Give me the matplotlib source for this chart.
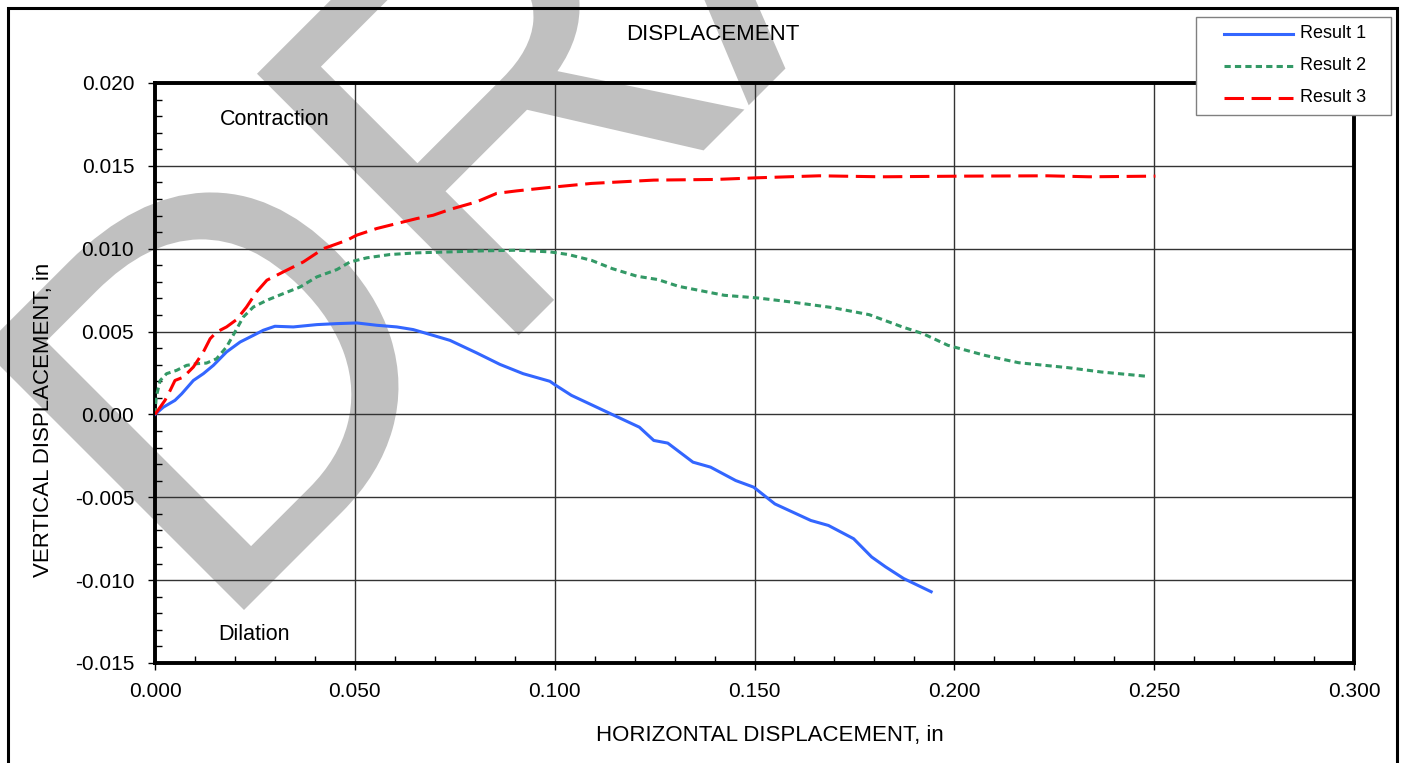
import matplotlib
matplotlib.use("Agg")
import matplotlib.pyplot as plt
from matplotlib.patches import Rectangle, PathPatch
from matplotlib.lines import Line2D
from matplotlib.path import Path
from matplotlib.textpath import TextPath
from matplotlib.font_manager import FontProperties
from matplotlib.transforms import Affine2D
from matplotlib.ticker import MultipleLocator, FormatStrFormatter

plt.rcParams['font.family'] = ['Liberation Sans', 'DejaVu Sans']
plt.rcParams['axes.unicode_minus'] = False
plt.rcParams['lines.scale_dashes'] = False

# ---------------- data ----------------
r1_x = [0.0, 0.0021, 0.0050, 0.0067, 0.0096, 0.0121, 0.0146, 0.0179, 0.0213, 0.0246,
        0.0271, 0.0300, 0.0346, 0.0405, 0.0455, 0.0505, 0.0555, 0.0605, 0.0646, 0.0696,
        0.0738, 0.0805, 0.0863, 0.0921, 0.0988, 0.1000, 0.1042, 0.1096, 0.1149, 0.1212,
        0.1248, 0.1283, 0.1346, 0.1390, 0.1453, 0.1498, 0.1551, 0.1641, 0.1685, 0.1748,
        0.1793, 0.1828, 0.1873, 0.1942]
r1_y = [0.0, 0.00044, 0.00085, 0.00125, 0.00205, 0.00246, 0.00296, 0.00377, 0.00437, 0.00477,
        0.00508, 0.00532, 0.00528, 0.00542, 0.00548, 0.00552, 0.00538, 0.00528, 0.00512, 0.00477,
        0.00447, 0.00371, 0.00302, 0.00246, 0.00200, 0.00180, 0.00115, 0.00054, -0.00006, -0.00077,
        -0.00157, -0.00173, -0.00288, -0.00318, -0.00399, -0.00439, -0.00540, -0.00640, -0.00670, -0.00750,
        -0.00860, -0.00920, -0.00990, -0.01070]

r2_x = [0.0, 0.0003, 0.0013, 0.0029, 0.0054, 0.0079, 0.0104, 0.0129, 0.0154, 0.0179,
        0.0200, 0.0221, 0.0246, 0.0280, 0.0321, 0.0363, 0.0405, 0.0455, 0.0488, 0.0530,
        0.0588, 0.0655, 0.0738, 0.0821, 0.0905, 0.0988, 0.1034, 0.1092, 0.1144, 0.1206,
        0.1258, 0.1310, 0.1424, 0.1507, 0.1590, 0.1694, 0.1787, 0.1870, 0.1922, 0.1984,
        0.2077, 0.2161, 0.2285, 0.2368, 0.2482]
r2_y = [0.0, 0.00105, 0.00205, 0.00246, 0.00266, 0.00296, 0.00306, 0.00310, 0.00336, 0.00407,
        0.00497, 0.00588, 0.00648, 0.00689, 0.00729, 0.00769, 0.00830, 0.00874, 0.00920, 0.00945,
        0.00965, 0.00975, 0.00981, 0.00987, 0.00991, 0.00981, 0.00965, 0.00930, 0.00880, 0.00834,
        0.00814, 0.00773, 0.00719, 0.00703, 0.00679, 0.00645, 0.00602, 0.00528, 0.00487, 0.00417,
        0.00356, 0.00312, 0.00282, 0.00256, 0.00230]

r3_x = [0.0, 0.0013, 0.0025, 0.0038, 0.0050, 0.0071, 0.0096, 0.0121, 0.0138, 0.0154,
        0.0179, 0.0204, 0.0229, 0.0254, 0.0280, 0.0321, 0.0371, 0.0421, 0.0480, 0.0505,
        0.0555, 0.0605, 0.0655, 0.0696, 0.0738, 0.0805, 0.0855, 0.0905, 0.0988, 0.1092,
        0.1248, 0.1403, 0.1507, 0.1662, 0.1818, 0.2025, 0.2233, 0.2337, 0.2503]
r3_y = [0.0, 0.00044, 0.00085, 0.00145, 0.00205, 0.00225, 0.00286, 0.00377, 0.00457, 0.00497,
        0.00528, 0.00572, 0.00648, 0.00739, 0.00810, 0.00860, 0.00920, 0.01000, 0.01051, 0.01082,
        0.01122, 0.01152, 0.01182, 0.01202, 0.01237, 0.01283, 0.01334, 0.01349, 0.01370, 0.01394,
        0.01414, 0.01418, 0.01428, 0.01440, 0.01434, 0.01438, 0.01440, 0.01434, 0.01438]

labels = ['Result 1', 'Result 2', 'Result 3']
colors = ['#3366FF', '#339966', '#FF0000']
styles = ['-', (0, (4.5, 3.0)), (0, (14, 5.5))]
x_ticks = [0.000, 0.050, 0.100, 0.150, 0.200, 0.250, 0.300]
y_ticks = [-0.015, -0.010, -0.005, 0.000, 0.005, 0.010, 0.015, 0.020]

# ---------------- figure ----------------
W, H = 1407, 763
fig = plt.figure(figsize=(W / 100, H / 100), dpi=100)
fig.patch.set_facecolor('white')

# watermark "DRAFT" (grey, rotated 45 degrees, behind everything)
fp = FontProperties(family='Liberation Sans')
ext = TextPath((0, 0), 'D', size=1, prop=fp).get_extents()
S = 370.0 / ext.y1
dr_right = TextPath((0, 0), 'DR', size=S, prop=fp).get_extents().x1
wm = TextPath((0, 0), 'DRAFT', size=S, prop=fp)
verts = wm.vertices.copy()
shift = verts[:, 0] > dr_right + 2          # glyphs after "R": apply R-A kerning
verts[shift, 0] -= 20
wm_path = Path(verts, wm.codes)
wm_tr = Affine2D().translate(-ext.x0 * S, 0).rotate_deg(45).translate(244, H - 610)
fig.add_artist(PathPatch(wm_path, transform=wm_tr, facecolor='#c0c0c0',
                         edgecolor='none', zorder=-5))

ax = fig.add_axes([155 / W, 1 - 663 / H, (1354 - 155) / W, (663 - 83) / H])
ax.set_facecolor('none')

for xs, ys, c, st, lab in zip([r1_x, r2_x, r3_x], [r1_y, r2_y, r3_y], colors, styles, labels):
    ax.plot(xs, ys, color=c, lw=2.2, ls=st, label=lab, zorder=3)

ax.set_xlim(0, 0.300)
ax.set_ylim(-0.015, 0.020)
ax.set_xticks(x_ticks)
ax.set_yticks(y_ticks)
ax.xaxis.set_major_formatter(FormatStrFormatter('%.3f'))
ax.yaxis.set_major_formatter(FormatStrFormatter('%.3f'))
ax.xaxis.set_minor_locator(MultipleLocator(0.010))
ax.yaxis.set_minor_locator(MultipleLocator(0.001))
ax.tick_params(which='major', direction='out', length=5, width=1, labelsize=15, pad=10)
ax.tick_params(which='minor', direction='in', length=5, width=1)
ax.tick_params(axis='x', which='major', pad=9)

ax.grid(True, which='major', color='#333333', lw=1)
ax.set_axisbelow(True)
for s in ax.spines.values():
    s.set_linewidth(2.8)
    s.set_color('black')

ax.text(0.0163, 0.01782, 'Contraction', fontsize=15.5, va='center', ha='left')
ax.text(0.0158, -0.01329, 'Dilation', fontsize=15.5, va='center', ha='left')

fig.text(713 / W, 1 - 35 / H, 'DISPLACEMENT', fontsize=16, ha='center', va='center')
fig.text(770 / W, 1 - 735 / H, 'HORIZONTAL DISPLACEMENT, in', fontsize=16, ha='center', va='center')
fig.text(44 / W, 1 - 420 / H, 'VERTICAL DISPLACEMENT, in', fontsize=16, ha='center', va='center',
         rotation=90)

# legend box (Excel style, drawn in figure pixels)
pix = Affine2D().scale(1.0 / W, 1.0 / H) + fig.transFigure
fig.add_artist(Rectangle((1196, H - 115), 1391 - 1196, 115 - 17, transform=pix,
                         facecolor='white', edgecolor='#808080', lw=1.0, zorder=10))
for i, (c, st, lab) in enumerate(zip(colors, styles, labels)):
    yy = H - (34 + 32 * i)
    fig.add_artist(Line2D([1224, 1293], [yy, yy], transform=pix, color=c, lw=2.2,
                          ls=st, zorder=11))
    fig.text(1300 / W, yy / H, lab, fontsize=13, ha='left', va='center', zorder=11)

# outer chart border
fig.add_artist(Rectangle((8 / W, -0.01), (1397 - 8) / W, 1 - 8 / H + 0.01,
                         transform=fig.transFigure, fill=False, edgecolor='black',
                         lw=2.2, zorder=8))

fig.savefig('out.png', dpi=100)
